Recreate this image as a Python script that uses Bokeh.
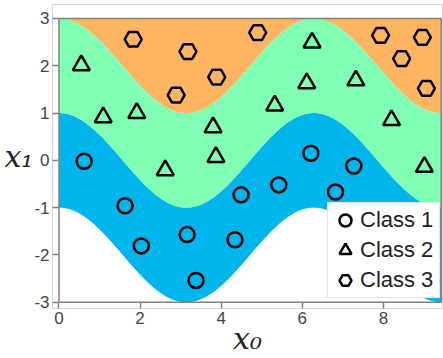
import numpy as np
from bokeh.plotting import figure
from bokeh.models import Range1d, Legend, LegendItem, FixedTicker
from bokeh.embed import file_html
from bokeh.resources import INLINE

# domain of the decision regions
X_MIN, X_MAX = 0.0, 3 * np.pi
Y_MIN, Y_MAX = -3.0, 3.0
# boundaries are cos(x0) shifted by these offsets
BOUNDARY_OFFSETS = [-2.0, 0.0, 2.0]
REGION_COLORS = ["#00b4ec", "#80ffb4", "#ffb462"]

x_ticks = [0, 2, 4, 6, 8]
y_ticks = [-3, -2, -1, 0, 1, 2, 3]

class_names = ["Class 1", "Class 2", "Class 3"]

c1_x = [0.62, 1.63, 2.03, 3.16, 3.38, 4.34, 4.49, 5.42, 6.21, 6.82, 7.27]
c1_y = [-0.02, -0.96, -1.81, -1.57, -2.54, -1.68, -0.73, -0.52, 0.15, -0.67, -0.12]

c2_x = [0.55, 1.09, 1.92, 2.62, 3.80, 3.87, 5.32, 6.11, 6.24, 7.32, 8.20, 9.01]
c2_y = [2.01, 0.91, 1.00, -0.21, 0.70, 0.07, 1.16, 1.63, 2.49, 1.69, 0.85, -0.14]

c3_x = [1.83, 2.89, 3.18, 3.89, 4.90, 7.93, 8.45, 8.96, 9.06]
c3_y = [2.56, 1.38, 2.30, 1.76, 2.70, 2.64, 2.15, 2.60, 1.52]

p = figure(width=443, height=358, output_backend="svg", toolbar_location=None,
           x_range=Range1d(-0.160, 9.457), y_range=Range1d(-3.133, 3.295),
           min_border_left=52, min_border_right=1, min_border_top=4,
           min_border_bottom=49)
p.grid.visible = False
p.outline_line_color = "#d6d6d6"
p.outline_line_width = 1

# regions
xs = np.linspace(X_MIN, X_MAX, 600)
base = np.cos(xs)
bounds = [base + o for o in BOUNDARY_OFFSETS] + [np.full_like(xs, Y_MAX)]
for i, col in enumerate(REGION_COLORS):
    p.varea(x=xs, y1=bounds[i], y2=bounds[i + 1], fill_color=col, fill_alpha=1.0)

p.quad(left=[X_MIN], right=[X_MAX], bottom=[Y_MIN], top=[Y_MAX],
       fill_alpha=0, line_color="#808080", line_width=1.5)

mk = dict(fill_color=None, line_color="black", line_width=2.5)
r1 = p.scatter(c1_x, c1_y, marker="circle", size=15, **mk)
r2 = p.scatter(c2_x, c2_y, marker="triangle", size=17, **mk)
r3 = p.scatter(c3_x, c3_y, marker="hex", size=17, **mk)

legend = Legend(items=[LegendItem(label=class_names[0], renderers=[r1]),
                       LegendItem(label=class_names[1], renderers=[r2]),
                       LegendItem(label=class_names[2], renderers=[r3])],
                location=(275, 10), margin=0, padding=2, spacing=0,
                glyph_width=30, glyph_height=30, label_standoff=0,
                label_width=77,
                label_text_font_size="22px", label_text_color="#222222",
                border_line_color="#cccccc", border_line_width=1,
                background_fill_color="white", background_fill_alpha=1.0)
p.add_layout(legend)

for ax in (p.xaxis, p.yaxis):
    ax.axis_line_color = "#d6d6d6"
    ax.axis_line_width = 1
    ax.major_tick_line_color = "#808080"
    ax.major_tick_line_width = 1.5
    ax.major_tick_in = 6
    ax.major_tick_out = 0
    ax.minor_tick_line_color = None
    ax.major_label_text_font_size = "17px"
    ax.major_label_text_color = "#444444"
    ax.major_label_standoff = 3
    ax.axis_label_text_font = "DejaVu Serif"
    ax.axis_label_text_font_style = "italic"
    ax.axis_label_text_font_size = "30px"
    ax.axis_label_text_color = "#222222"

p.xaxis.axis_label_standoff = -6
p.yaxis.axis_label_standoff = -2
p.xaxis.ticker = FixedTicker(ticks=x_ticks)
p.yaxis.ticker = FixedTicker(ticks=y_ticks)
p.xaxis.major_label_overrides = {t: str(t) for t in x_ticks}
p.yaxis.major_label_overrides = {t: str(t) for t in y_ticks}
p.xaxis.axis_label = "x\u2080"
p.yaxis.axis_label = "x\u2081"
p.yaxis.axis_label_orientation = "horizontal"

open("out.html", "w").write(file_html(p, INLINE))
